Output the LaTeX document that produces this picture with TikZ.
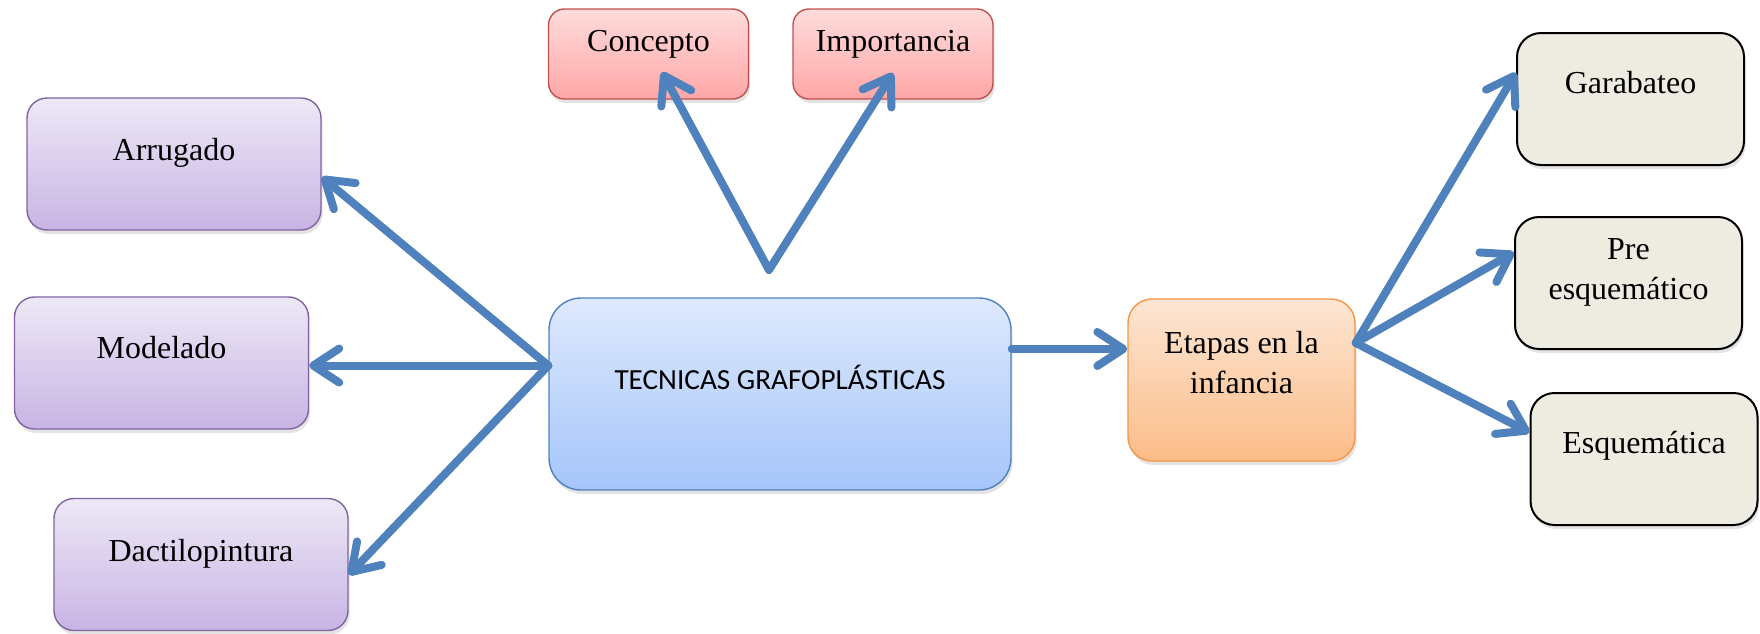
\documentclass[tikz,border=0pt]{standalone}
\usepackage{fontspec}
\setmainfont{Liberation Serif}
\newfontfamily\calibri{Carlito}
\usetikzlibrary{arrows.meta,shadows}
\definecolor{azulflecha}{RGB}{79,129,189}
\definecolor{azularriba}{RGB}{222,233,253}
\definecolor{azulabajo}{RGB}{165,197,250}
\definecolor{rosaborde}{RGB}{192,80,77}
\definecolor{rosaarriba}{RGB}{255,220,220}
\definecolor{rosaabajo}{RGB}{255,166,166}
\definecolor{lilaborde}{RGB}{128,100,162}
\definecolor{lilaarriba}{RGB}{237,232,246}
\definecolor{lilaabajo}{RGB}{200,180,228}
\definecolor{naranjaborde}{RGB}{247,150,70}
\definecolor{naranjaarriba}{RGB}{253,230,212}
\definecolor{naranjaabajo}{RGB}{251,188,136}
\definecolor{grisfondo}{RGB}{238,236,225}
\tikzset{
  caja/.style={rectangle, rounded corners=10pt, line width=0.7pt,
    drop shadow={opacity=0.22, shadow xshift=0.8pt, shadow yshift=-2pt}},
  lila/.style={caja, draw=lilaborde, top color=lilaarriba, bottom color=lilaabajo,
    minimum width=147pt, minimum height=66pt},
  rosa/.style={caja, rounded corners=8pt, draw=rosaborde, top color=rosaarriba, bottom color=rosaabajo,
    minimum width=100pt, minimum height=45pt},
  gris/.style={caja, rounded corners=12pt, line width=1pt, draw=black, fill=grisfondo,
    minimum width=113.5pt, minimum height=66pt},
  texto/.style={font=\fontsize{16}{20}\selectfont, inner sep=0pt, anchor=base, align=center},
  flecha/.style={draw=azulflecha, line width=4pt, line cap=round,
    -{Straight Barb[length=13pt,width=17pt,round]}}
}
\begin{document}
\begin{tikzpicture}[x=0.5pt,y=-0.5pt]
  \useasboundingbox (0,0) rectangle (1760,633);
  \node[caja, rounded corners=16pt, draw=azulflecha, top color=azularriba, bottom color=azulabajo,
    minimum width=231pt, minimum height=96pt] (tecnicas) at (780,394) {};
  \node[rosa] (concepto) at (648.5,54) {};
  \node[rosa] (importancia) at (893,54) {};
  \node[lila] (arrugado) at (174,164) {};
  \node[lila] (modelado) at (161.5,363) {};
  \node[lila] (dactilo) at (201,564.5) {};
  \node[caja, rounded corners=12pt, draw=naranjaborde, top color=naranjaarriba, bottom color=naranjaabajo,
    minimum width=113.5pt, minimum height=81pt] (etapas) at (1241.5,380) {};
  \node[gris] (garabateo) at (1630.5,99) {};
  \node[gris] (pre) at (1628.5,283) {};
  \node[gris] (esquematica) at (1644,459) {};

  \node[texto, font=\calibri\fontsize{14.6}{18}\selectfont] (tecnicastxt) at (780,389) {TECNICAS GRAFOPLÁSTICAS};
  \node[texto] (conceptotxt) at (648.5,51) {Concepto};
  \node[texto] (importanciatxt) at (893,51) {Importancia};
  \node[texto] (arrugadotxt) at (174,160) {Arrugado};
  \node[texto] (modeladotxt) at (161.5,358) {Modelado};
  \node[texto] (dactilotxt) at (201,561) {Dactilopintura};
  \node[texto] (etapastxt) at (1241.5,393) {Etapas en la\\infancia};
  \node[texto] (garabateotxt) at (1630.5,93) {Garabateo};
  \node[texto] (pretxt) at (1628.5,299) {Pre\\esquemático};
  \node[texto] (esquematicatxt) at (1644,453) {Esquemática};

  \coordinate (vertice) at (769,270);
  \draw[flecha] (tecnicas.173) -- (arrugado.-5);
  \draw[flecha] (tecnicas.173) -- (tecnicas.173 -| modelado.east);
  \draw[flecha] (tecnicas.173) -- (dactilo.-4);
  \draw[flecha] (vertice) -- ([xshift=6.75pt,yshift=-9pt]concepto.center);
  \draw[flecha] (vertice) -- ([yshift=-9.5pt]importancia.center);
  \draw[flecha] (tecnicas.11) -- (tecnicas.11 -| etapas.west);
  \draw[flecha] (etapas.18) -- (garabateo.167);
  \draw[flecha] (etapas.18) -- (pre.165);
  \draw[flecha] (etapas.18) -- (esquematica.167);
\end{tikzpicture}
\end{document}
